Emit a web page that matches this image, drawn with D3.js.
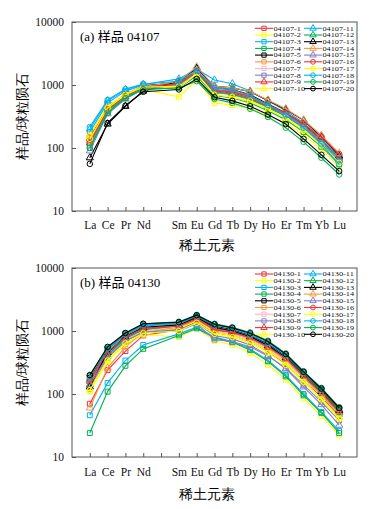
<!DOCTYPE html>
<html><head><meta charset="utf-8">
<script src="https://cdn.jsdelivr.net/npm/d3@7/dist/d3.min.js"></script>
<style>body{margin:0;background:#fff}svg{display:block}text{font-family:"Liberation Serif","Times New Roman",serif}</style>
</head><body><svg id="c" width="375" height="509"></svg>
<script>
const elements = ["La","Ce","Pr","Nd","Sm","Eu","Gd","Tb","Dy","Ho","Er","Tm","Yb","Lu"];
const elementPos = [1,2,3,4,6,7,8,9,10,11,12,13,14,15];
const tickLabels = ["La","Ce","Pr","Nd","","Sm","Eu","Gd","Tb","Dy","Ho","Er","Tm","Yb","Lu"];
const yTicks = [10,100,1000,10000];
const colors = ["#f03232","#ffff00","#00b0f0","#00b050","#000000","#f79646","#ffb6c1","#8080c8"];
const seriesColor = [0,1,2,3,4,5,6,7,0,1,2,3,4,5,7,0,1,2,3,4];
const seriesShape = ["s","s","s","s","s","s","s","s","t","t","t","t","t","t","t","c","c","c","c","c"];

const namesA = d3.range(1,21).map(i=>"04107-"+i);
const namesB = d3.range(1,21).map(i=>"04130-"+i);

const dataA = [
 [150,420,680,900,1000,1500,780,720,600,440,320,210,120,62],
 [130,400,640,850,650,1200,520,480,420,330,250,160,95,50],
 [180,520,800,1000,1050,1600,850,800,650,480,340,220,125,65],
 [100,380,620,860,900,1400,680,620,520,390,280,180,105,55],
 [140,440,700,950,1100,1650,900,850,700,500,360,240,135,68],
 [160,450,720,950,1050,1700,820,780,640,470,340,225,130,66],
 [130,420,680,920,1000,1550,800,740,610,450,330,215,125,63],
 [110,380,640,880,950,1500,760,700,590,440,320,210,120,60],
 [140,430,700,930,1000,1600,800,750,620,460,340,230,135,70],
 [160,460,720,940,900,1500,700,640,540,410,300,200,115,60],
 [200,560,850,1020,1250,1800,1200,1050,800,560,390,250,140,70],
 [120,400,660,900,1100,1600,780,720,600,450,330,215,125,64],
 [70,240,460,800,1150,1850,950,900,780,570,410,275,150,75],
 [130,420,700,930,1150,1950,950,900,790,580,420,280,160,82],
 [90,350,600,860,1000,1600,850,800,650,480,340,220,125,65],
 [120,410,680,920,1050,1650,820,780,660,490,360,240,150,80],
 [140,430,700,930,950,1500,700,650,560,420,300,190,110,58],
 [215,580,860,1040,1150,1700,900,850,680,480,330,210,115,55],
 [100,360,620,850,900,1150,600,520,420,310,210,125,70,38],
 [56,250,470,780,850,1250,640,560,460,340,240,140,78,43]
];
const dataB = [
 [70,240,480,850,1050,1400,950,850,680,480,300,160,90,45],
 [110,330,620,880,800,1100,700,600,450,290,170,85,45,22],
 [46,150,340,600,900,1150,800,680,520,340,200,100,52,26],
 [24,109,280,520,850,1100,780,660,500,330,190,95,50,24],
 [180,520,900,1250,1350,1700,1200,1050,850,620,400,210,115,58],
 [150,430,750,1050,1200,1550,1050,950,760,540,350,185,100,50],
 [130,400,720,1000,1150,1500,1000,900,720,510,330,175,95,47],
 [120,380,680,950,1000,1300,730,680,560,400,260,140,75,38],
 [160,450,780,1100,1250,1600,1100,980,800,570,370,195,105,52],
 [120,350,650,950,1100,1450,950,850,680,480,310,160,85,42],
 [170,500,860,1200,1300,1700,1150,1020,830,600,390,205,112,56],
 [140,420,760,1050,1200,1550,1050,950,770,550,360,190,102,51],
 [130,460,820,1150,1250,1650,1150,1000,820,590,380,200,110,55],
 [60,260,560,950,1150,1500,1050,950,760,540,350,180,98,48],
 [140,400,700,950,1050,1350,850,750,600,410,250,130,68,32],
 [170,470,800,1100,1200,1550,1050,950,780,560,370,200,110,55],
 [115,340,640,920,1000,1350,900,800,640,450,290,155,82,40],
 [190,530,900,1250,1350,1750,1250,1100,880,650,420,220,120,60],
 [195,550,920,1300,1400,1800,1300,1150,950,700,440,230,125,62],
 [200,560,930,1300,1380,1780,1280,1120,920,680,430,225,122,60]
];

const svg = d3.select("#c");
const symType = {s:d3.symbolSquare,t:d3.symbolTriangle,c:d3.symbolCircle};
const symSize = {s:24,t:22,c:24};
const SERIF = '"Liberation Serif","Times New Roman",serif';
const CJK = '"Noto Sans CJK SC",sans-serif';

function panel(cfg){
  const g = svg.append("g");
  const x = d3.scaleLinear().domain([0,16]).range([72,357]);
  const y = d3.scaleLog().domain([10,10000]).range([cfg.bottom,cfg.top]);
  g.append("rect").attr("x",72).attr("y",cfg.top).attr("width",285).attr("height",cfg.bottom-cfg.top)
    .attr("fill","none").attr("stroke","#555").attr("stroke-width",1);
  const xAxis = d3.axisBottom(x).tickValues(d3.range(1,16)).tickSize(-4).tickFormat(d=>tickLabels[d-1]);
  const gx = g.append("g").attr("transform",`translate(0,${cfg.bottom})`).call(xAxis)
    .attr("font-family",SERIF).attr("font-size",11.5);
  gx.select(".domain").remove();
  gx.selectAll(".tick line").attr("stroke","#555");
  gx.selectAll(".tick text").attr("y",0).attr("dy",cfg.labelDy).attr("fill","#111");
  const yAxis = d3.axisLeft(y).tickValues(yTicks).tickSize(-4).tickFormat(d3.format("d"));
  const gy = g.append("g").attr("transform","translate(72,0)").call(yAxis)
    .attr("font-family",SERIF).attr("font-size",11.5);
  gy.select(".domain").remove();
  gy.selectAll(".tick line").attr("stroke","#555");
  gy.selectAll(".tick text").attr("x",-8).attr("fill","#111");
  g.append("text").attr("x",207).attr("y",cfg.titleY).attr("text-anchor","middle").attr("font-size",14)
    .attr("font-family",CJK).text("稀土元素");
  g.append("text").attr("transform",`translate(27,${(cfg.top+cfg.bottom)/2}) rotate(-90)`).attr("text-anchor","middle")
    .attr("font-size",14).attr("font-family",CJK).text("样品/球粒陨石");
  const t = g.append("text").attr("x",80).attr("y",cfg.top+19).attr("font-size",13).attr("font-family",SERIF);
  t.append("tspan").text(cfg.label+" ");
  t.append("tspan").attr("font-family",CJK).text("样品");
  t.append("tspan").text(" "+cfg.sample);
  const line = d3.line().x((d,i)=>x(elementPos[i])).y(d=>y(d));
  cfg.data.forEach((vals,si)=>{
    const col = colors[seriesColor[si]];
    const sh = seriesShape[si];
    g.append("path").attr("d",line(vals)).attr("fill","none").attr("stroke",col).attr("stroke-width",1.1);
    g.selectAll(null).data(vals).enter().append("path")
      .attr("d",d3.symbol().type(symType[sh]).size(symSize[sh]))
      .attr("transform",(d,i)=>`translate(${x(elementPos[i])},${y(d)})`)
      .attr("fill","none").attr("stroke",col).attr("stroke-width",1);
  });
  const lg = g.append("g");
  cfg.names.forEach((n,si)=>{
    const col = colors[seriesColor[si]];
    const sh = seriesShape[si];
    const cx = si<10?255:304, row = si%10;
    const yy = cfg.legTop + row*cfg.legStep;
    lg.append("line").attr("x1",cx).attr("x2",cx+18).attr("y1",yy).attr("y2",yy).attr("stroke",col).attr("stroke-width",1.1);
    lg.append("path").attr("d",d3.symbol().type(symType[sh]).size(18)).attr("transform",`translate(${cx+9},${yy})`)
      .attr("fill","none").attr("stroke",col).attr("stroke-width",1);
    lg.append("text").attr("transform",`translate(${cx+18.5},${yy+2.3}) scale(1.1,0.8)`)
      .attr("font-size",7.5).attr("font-family",SERIF).attr("fill","#111").text(n);
  });
}

panel({top:22,bottom:211,labelDy:18,titleY:250,label:"(a)",sample:"04107",data:dataA,names:namesA,legTop:28.3,legStep:6.7});
panel({top:268,bottom:457,labelDy:19,titleY:499,label:"(b)",sample:"04130",data:dataB,names:namesB,legTop:274,legStep:6.7});
</script></body></html>
